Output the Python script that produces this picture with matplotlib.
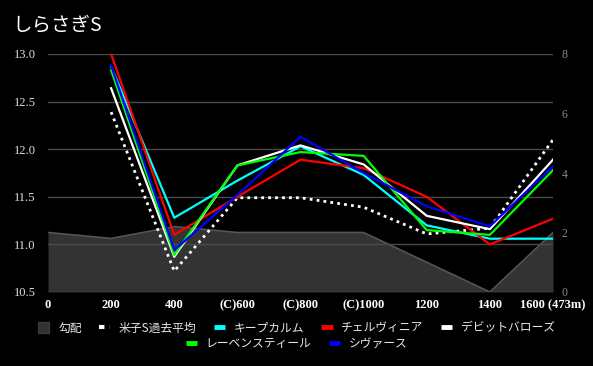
import matplotlib
matplotlib.use("Agg")
import matplotlib.pyplot as plt
from matplotlib.lines import Line2D
from matplotlib.patches import Patch

plt.rcParams['font.family'] = ['Noto Sans CJK JP', 'DejaVu Sans']

title = "しらさぎS"
x_all = [0, 200, 400, 600, 800, 1000, 1200, 1400, 1600]
x_tick_labels = ['0', '200', '400', '(C)600', '(C)800', '(C)1000', '1200', '1400', '1600 (473m)']
x_lines = [200, 400, 600, 800, 1000, 1200, 1400, 1600]

gradient = [2.0, 1.8, 2.2, 2.0, 2.0, 2.0, 1.0, 0.0, 2.0]
past_avg = [12.39, 10.72, 11.49, 11.49, 11.39, 11.11, 11.17, 12.10]
keep_calm = [12.87, 11.28, 11.67, 12.03, 11.73, 11.20, 11.06, 11.06]
cervinia = [13.00, 11.10, 11.50, 11.89, 11.80, 11.50, 11.00, 11.27]
debit = [12.64, 10.87, 11.83, 12.04, 11.84, 11.30, 11.16, 11.89]
leben = [12.83, 10.89, 11.83, 11.97, 11.93, 11.15, 11.10, 11.78]
sivers = [12.88, 10.94, 11.52, 12.13, 11.75, 11.40, 11.19, 11.82]

series = [
    ("キープカルム", keep_calm, "#00ffff"),
    ("チェルヴィニア", cervinia, "#ff0000"),
    ("デビットバローズ", debit, "#ffffff"),
    ("レーベンスティール", leben, "#00ff00"),
    ("シヴァース", sivers, "#0000ff"),
]

fig = plt.figure(figsize=(5.93, 3.66), dpi=100, facecolor='black')
ax = fig.add_axes([48/593, 1-292/366, (553-48)/593, (292-54)/366])
ax2 = ax.twinx()
ax.set_zorder(ax2.get_zorder() + 1)
ax.patch.set_visible(False)
ax2.patch.set_facecolor('black')

# gradient area on right axis
ax2.fill_between(x_all, gradient, 0, color='#333333', linewidth=0)
ax2.plot(x_all, gradient, color='#555555', linewidth=1.2)
ax2.set_ylim(0, 8)
ax2.set_yticks([0, 2, 4, 6, 8])
ax2.set_yticklabels(['0', '2', '4', '6', '8'], family='Liberation Serif', fontsize=8.5, color='#888888')
ax2.tick_params(axis='y', length=0, pad=6)

# main lines
ax.plot(x_lines, past_avg, color='white', linewidth=2, linestyle=(0, (1, 1.5)))
for name, vals, col in series:
    ax.plot(x_lines, vals, color=col, linewidth=1.6)

ax.set_xlim(0, 1600)
ax.set_ylim(10.5, 13.0)
ax.set_yticks([10.5, 11.0, 11.5, 12.0, 12.5, 13.0])
ax.set_yticklabels(['10.5', '11.0', '11.5', '12.0', '12.5', '13.0'], family='Liberation Serif',
                   fontsize=9, color='#e0e0e0')
ax.set_xticks(x_all)
ax.set_xticklabels(x_tick_labels, family='Liberation Serif', fontsize=9, color='#ffffff', fontweight='bold')
ax.tick_params(axis='both', length=0)
ax.tick_params(axis='y', pad=9)
ax.tick_params(axis='x', pad=5)
ax.grid(axis='y', color='#4a4a4a', linewidth=1)
ax.grid(axis='x', visible=False)
for a in (ax, ax2):
    for s in a.spines.values():
        s.set_visible(False)

fig.text(12/593, 1-25/366, title, color='white', fontsize=14, va='center', ha='left')

# legends
h_grad = Patch(facecolor='#333333', edgecolor='#3a3a3a', label='勾配')
h_avg = Line2D([], [], color='white', linewidth=3, linestyle=(0, (1.3, 1.3)), label='米子S過去平均')
row1 = [h_grad, h_avg] + [Line2D([], [], color=c, linewidth=3.5, solid_capstyle='butt', label=n)
                          for n, v, c in series[:3]]
row2 = [Line2D([], [], color=c, linewidth=3.5, solid_capstyle='butt', label=n) for n, v, c in series[3:]]

leg_kw = dict(frameon=False, labelcolor='#e8e8e8', fontsize=8.5, handlelength=0.95, handleheight=0.95,
              handletextpad=0.75, columnspacing=1.45, borderpad=0)
leg1 = fig.legend(handles=row1, loc='center', bbox_to_anchor=(0.5, 1-328/366), ncol=5, **leg_kw)
leg2 = fig.legend(handles=row2, loc='center', bbox_to_anchor=(0.5, 1-344/366), ncol=2, **leg_kw)

fig.savefig('out.png', dpi=100, facecolor='black')
